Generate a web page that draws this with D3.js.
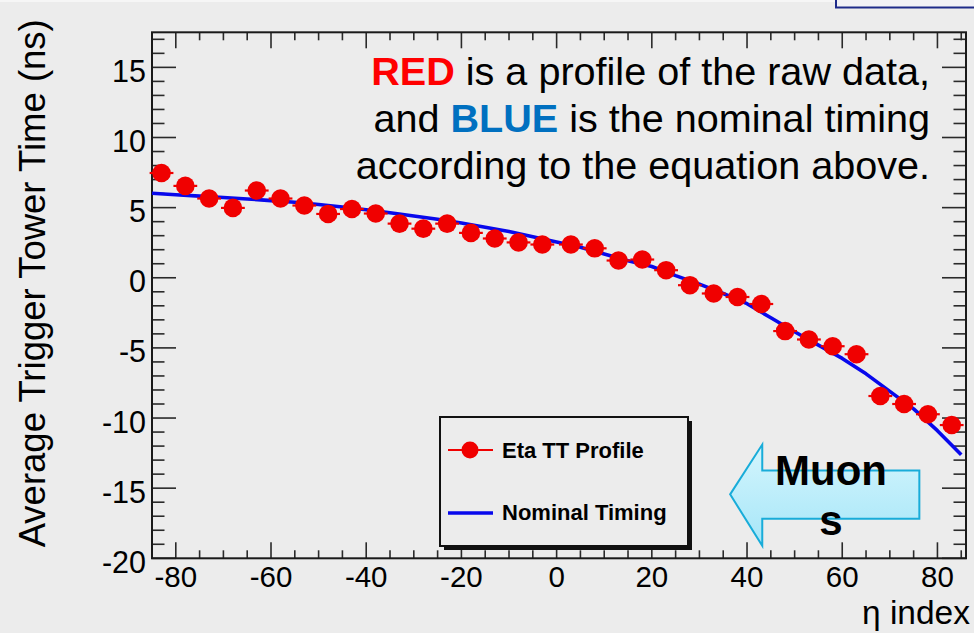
<!DOCTYPE html>
<html>
<head>
<meta charset="utf-8">
<script src="https://cdn.jsdelivr.net/npm/d3@7/dist/d3.min.js"></script>
<style>
  html, body { margin: 0; padding: 0; background: #ececec; }
  svg { display: block; font-family: "Liberation Sans", Arial, Helvetica, sans-serif; }
</style>
</head>
<body>
<svg id="chart" width="974" height="633"></svg>
<script>
// Trigger-tower eta index (tower centres; ieta 0 does not exist)
const towerEta = [-83, -78, -73, -68, -63, -58, -53, -48, -43, -38, -33, -28, -23, -18, -13, -8, -3,
                  3, 8, 13, 18, 23, 28, 33, 38, 43, 48, 53, 58, 63, 68, 73, 78, 83];
// Profile of the raw data: mean trigger tower time (ns)
const profileTime = [7.47, 6.55, 5.65, 4.98, 6.22, 5.65, 5.15, 4.55, 4.9, 4.58, 3.86, 3.5, 3.86, 3.2, 2.8, 2.52, 2.37,
                     2.37, 2.1, 1.23, 1.3, 0.54, -0.53, -1.12, -1.37, -1.87, -3.8, -4.4, -4.88, -5.45, -8.43, -9.0, -9.73, -10.5];
const binHalfWidth = 2.5;

// Nominal timing curve
const nominalEta = [-85, -80, -75, -70, -65, -60, -55, -50, -45, -40, -35, -30, -25, -20, -15, -10, -5,
                    0, 5, 10, 15, 20, 25, 30, 35, 40, 45, 50, 55, 60, 65, 70, 75, 80, 85];
const nominalTime = [6.02, 5.92, 5.82, 5.72, 5.62, 5.5, 5.38, 5.22, 5.05, 4.85, 4.64, 4.4, 4.17, 3.9, 3.6, 3.3, 2.92,
                     2.55, 2.18, 1.7, 1.22, 0.8, 0.15, -0.45, -1.12, -1.85, -2.85, -3.85, -4.8, -5.75, -6.85, -8.1, -9.35, -10.9, -12.62];

// Axis ticks
const xMajorTicks = [-80, -60, -40, -20, 0, 20, 40, 60, 80];
const xMinorStep = 5;
const yMajorTicks = [-20, -15, -10, -5, 0, 5, 10, 15];
const yMinorStep = 1;

const xDomain = [-85, 86];
const yDomain = [-20, 17.5];

const svg = d3.select("#chart");
const W = 974, H = 633;
const plot = { left: 152, right: 966, top: 32.3, bottom: 558.3 };

const x = d3.scaleLinear().domain(xDomain).range([plot.left, plot.right]);
const y = d3.scaleLinear().domain(yDomain).range([plot.bottom, plot.top]);

// canvas
svg.append("rect").attr("width", W).attr("height", H).attr("fill", "#ececec");
svg.append("rect").attr("width", W).attr("height", 2).attr("fill", "#f6f6f6");
// box peeking in at the top right
svg.append("rect").attr("x", 836).attr("y", -12).attr("width", 150).attr("height", 19.5)
  .attr("fill", "#f1f1f6").attr("stroke", "#1d2a8a").attr("stroke-width", 2);

// ticks (drawn on all four sides)
const tickColor = "#2a2a2a";
const xMinor = d3.range(-85, 86, xMinorStep).filter(v => !xMajorTicks.includes(v));
const yMinor = d3.range(-20, 17.6, yMinorStep).filter(v => !yMajorTicks.includes(v));
const ticks = svg.append("g").attr("stroke", tickColor).attr("stroke-width", 1.6);

function xTicks(vals, len) {
  vals.forEach(v => {
    ticks.append("line").attr("x1", x(v)).attr("x2", x(v)).attr("y1", plot.bottom).attr("y2", plot.bottom - len);
    ticks.append("line").attr("x1", x(v)).attr("x2", x(v)).attr("y1", plot.top).attr("y2", plot.top + len);
  });
}
function yTicks(vals, len) {
  vals.forEach(v => {
    ticks.append("line").attr("y1", y(v)).attr("y2", y(v)).attr("x1", plot.left).attr("x2", plot.left + len);
    ticks.append("line").attr("y1", y(v)).attr("y2", y(v)).attr("x1", plot.right).attr("x2", plot.right - len);
  });
}
xTicks(xMajorTicks, 16);
xTicks(xMinor, 8);
yTicks(yMajorTicks, 24);
yTicks(yMinor, 12.5);

// frame
svg.append("rect")
  .attr("x", plot.left).attr("y", plot.top)
  .attr("width", plot.right - plot.left).attr("height", plot.bottom - plot.top)
  .attr("fill", "none").attr("stroke", "#1a1a1a").attr("stroke-width", 2);

// tick labels
svg.append("g").selectAll("text").data(xMajorTicks).join("text")
  .attr("x", d => x(d)).attr("y", plot.bottom + 29)
  .attr("text-anchor", "middle").attr("font-size", 29.5).attr("fill", "#000")
  .text(d => d < 0 ? "-" + Math.abs(d) : d);
svg.append("g").selectAll("text").data(yMajorTicks).join("text")
  .attr("x", plot.left - 6).attr("y", d => y(d) + 14.5)
  .attr("text-anchor", "end").attr("font-size", 30.5).attr("fill", "#000")
  .text(d => d < 0 ? "-" + Math.abs(d) : d);

// axis titles
svg.append("text")
  .attr("transform", `translate(45,${(plot.top + plot.bottom) / 2 - 12}) rotate(-90)`)
  .attr("text-anchor", "middle").attr("font-size", 36.5).attr("fill", "#000")
  .text("Average Trigger Tower Time (ns)");
svg.append("text")
  .attr("x", 970).attr("y", 624)
  .attr("text-anchor", "end").attr("font-size", 33.5).attr("fill", "#000")
  .text("η index");

// nominal timing curve
const line = d3.line().x(d => x(d[0])).y(d => y(d[1]));
svg.append("path")
  .datum(d3.zip(nominalEta, nominalTime))
  .attr("d", line)
  .attr("fill", "none").attr("stroke", "#0808ec").attr("stroke-width", 3.6)
  .attr("stroke-linejoin", "round");

// profile points with bin-width error bars
const red = "#f00000";
const prof = svg.append("g");
const pts = d3.zip(towerEta, profileTime);
prof.selectAll("line").data(pts).join("line")
  .attr("x1", d => x(d[0] - binHalfWidth)).attr("x2", d => x(d[0] + binHalfWidth))
  .attr("y1", d => y(d[1])).attr("y2", d => y(d[1]))
  .attr("stroke", red).attr("stroke-width", 2.2);
prof.selectAll("circle").data(pts).join("circle")
  .attr("cx", d => x(d[0])).attr("cy", d => y(d[1])).attr("r", 9.3)
  .attr("fill", red);

// legend
const leg = svg.append("g");
leg.append("rect").attr("x", 444).attr("y", 421).attr("width", 248).attr("height", 129).attr("fill", "#111");
leg.append("rect").attr("x", 440).attr("y", 417).attr("width", 248).attr("height", 129)
  .attr("fill", "#ececec").attr("stroke", "#111").attr("stroke-width", 2);
leg.append("line").attr("x1", 448).attr("x2", 493).attr("y1", 450).attr("y2", 450)
  .attr("stroke", red).attr("stroke-width", 2.2);
leg.append("circle").attr("cx", 470).attr("cy", 450).attr("r", 8.5).attr("fill", red);
leg.append("line").attr("x1", 448).attr("x2", 493).attr("y1", 513).attr("y2", 513)
  .attr("stroke", "#0808ec").attr("stroke-width", 3.6);
leg.append("text").attr("x", 502).attr("y", 458).attr("font-size", 22).attr("font-weight", "bold")
  .attr("fill", "#000").text("Eta TT Profile");
leg.append("text").attr("x", 502).attr("y", 520).attr("font-size", 22).attr("font-weight", "bold")
  .attr("fill", "#000").text("Nominal Timing");

// explanatory note
const note = svg.append("g").attr("font-size", 39.6).attr("fill", "#000").attr("text-anchor", "end");
const l1 = note.append("text").attr("x", 930).attr("y", 85);
l1.append("tspan").attr("font-weight", "bold").attr("fill", "#ff0000").text("RED");
l1.append("tspan").text(" is a profile of the raw data,");
const l2 = note.append("text").attr("x", 930).attr("y", 132);
l2.append("tspan").text("and ");
l2.append("tspan").attr("font-weight", "bold").attr("fill", "#0070c0").text("BLUE");
l2.append("tspan").text(" is the nominal timing");
note.append("text").attr("x", 930).attr("y", 179).text("according to the equation above.");

// "Muons" arrow pointing toward negative eta
const defs = svg.append("defs");
const grad = defs.append("linearGradient").attr("id", "arrowFill").attr("x1", 0).attr("y1", 0).attr("x2", 0).attr("y2", 1);
grad.append("stop").attr("offset", "0%").attr("stop-color", "#d4f5fd");
grad.append("stop").attr("offset", "100%").attr("stop-color", "#a6e6f8");
const arrowPts = [[36.45, -15.44], [43.2, -11.89], [43.2, -13.74], [76.2, -13.74],
                  [76.2, -17.18], [43.2, -17.18], [43.2, -19.1]];
svg.append("polygon")
  .attr("points", arrowPts.map(p => [x(p[0]), y(p[1])].join(",")).join(" "))
  .attr("fill", "url(#arrowFill)").attr("stroke", "#18acd9").attr("stroke-width", 2);
svg.append("text").attr("x", 831).attr("y", 485).attr("text-anchor", "middle")
  .attr("font-size", 42).attr("font-weight", "bold").attr("fill", "#000").text("Muon");
svg.append("text").attr("x", 831).attr("y", 535).attr("text-anchor", "middle")
  .attr("font-size", 42).attr("font-weight", "bold").attr("fill", "#000").text("s");
</script>
</body>
</html>
